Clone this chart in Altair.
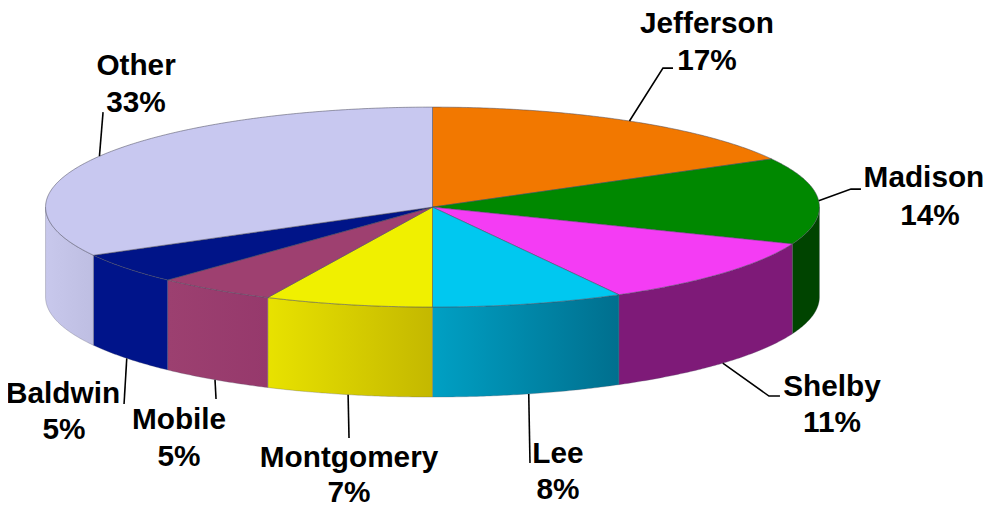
import math
import altair as alt
import pandas as pd

names = ["Jefferson", "Madison", "Shelby", "Lee", "Montgomery", "Mobile", "Baldwin", "Other"]
shares = [17, 14, 11, 8, 7, 5, 5, 33]
top_colors = ["#F27800", "#008800", "#F43CF4", "#00C8F0", "#F0F000", "#9E4070", "#001488", "#C8C8F0"]
side_left = ["#F27800", "#004400", "#7E1A78", "#00A0C4", "#E8E200", "#9C4070", "#00148A", "#C8C8EC"]
side_right = ["#F27800", "#004400", "#7E1A78", "#006F8E", "#C4B800", "#96396C", "#00148A", "#BEBEE2"]

# label position (x of each line, first-line y, second-line y) and the elbow of each leader
label_x1 = [707, 924, 832, 558, 349, 179, 63, 136]
label_x2 = [707, 930, 832, 558, 349, 179, 64, 136]
label_y1 = [23, 177, 386, 453, 457, 419, 393, 65]
label_y2 = [60, 215, 422, 489, 492, 456, 429, 102]
elbow_a = [(663, 67), (851, 188), (769, 395), (530, 462), (349, 437), (216, 398), (124, 403), (103, 111)]
elbow_b = [(673, 67), (861, 188), (780, 395), None, None, None, None, None]

W, H = 985, 504
K = 993 / (W + 16)  # the page overflows the window slightly and is fitted to its width
Y_NUDGE = 1.0
CX, CY, RX, RY, DEPTH = 432.5, 206, 387, 100, 90
x_s = alt.Scale(domain=[8 * K, (W + 8) * K], range=[0, W], nice=False, zero=False)
y_s = alt.Scale(domain=[8 * K + Y_NUDGE, (H + 8) * K + Y_NUDGE], range=[0, H], nice=False, zero=False)
X = lambda f="x": alt.X(f"{f}:Q", scale=x_s, axis=None)
Y = lambda f="y": alt.Y(f"{f}:Q", scale=y_s, axis=None)


def rim(t_deg, drop=0.0):
    t = math.radians(t_deg)
    return CX + RX * math.sin(t), CY - RY * math.cos(t) + drop


starts = []
acc = 0.0
for s in shares:
    starts.append(acc * 3.6)
    acc += s
ends = [a + s * 3.6 for a, s in zip(starts, shares)]

layers = []
# side walls: only the front half of the rim shows
for i in range(len(names)):
    a, b = max(starts[i], 90), min(ends[i], 270)
    if b <= a:
        continue
    n = max(2, int((b - a) * 2))
    rows = []
    for k in range(n + 1):
        t = a + (b - a) * k / n
        x, y = rim(t)
        rows.append({"x": x, "y": y, "y2": y + DEPTH})
    grad = alt.Gradient(
        gradient="linear", x1=0, y1=0, x2=1, y2=0,
        stops=[alt.GradientStop(offset=0, color=side_left[i]),
               alt.GradientStop(offset=1, color=side_right[i])],
    )
    layers.append(
        alt.Chart(pd.DataFrame(rows).sort_values("x")).mark_area(
            color=grad, stroke="#5a5a6a", strokeWidth=0.5, strokeOpacity=0.6, interpolate="linear"
        ).encode(x=X(), y=Y(), y2="y2:Q")
    )

# top wedges
for i in range(len(names)):
    a, b = starts[i], ends[i]
    n = max(2, int((b - a) * 2))
    pts = [(CX, CY)] + [rim(a + (b - a) * k / n) for k in range(n + 1)] + [(CX, CY)]
    df = pd.DataFrame({"x": [p[0] for p in pts], "y": [p[1] for p in pts], "o": range(len(pts))})
    layers.append(
        alt.Chart(df).mark_line(
            fill=top_colors[i], stroke="#4a4a5a", strokeWidth=0.7, strokeOpacity=0.75
        ).encode(x=X(), y=Y(), order="o:Q")
    )

# leaders start at each slice's mid-angle on the visible rim
lead_rows = []
for i, name in enumerate(names):
    mid = (starts[i] + ends[i]) / 2
    drop = DEPTH if 100 < mid < 260 else 0
    ax, ay = rim(mid, drop)
    pts = [(ax, ay), elbow_a[i]] + ([elbow_b[i]] if elbow_b[i] else [])
    for k, p in enumerate(pts):
        lead_rows.append({"name": name, "x": p[0], "y": p[1], "o": k})
layers.append(
    alt.Chart(pd.DataFrame(lead_rows)).mark_line(color="#000000", strokeWidth=1.6).encode(
        x=X(), y=Y(), detail="name:N", order="o:Q"
    )
)

# labels
text_rows = []
for i, name in enumerate(names):
    text_rows.append({"x": label_x1[i], "y": label_y1[i], "t": name})
    text_rows.append({"x": label_x2[i], "y": label_y2[i], "t": f"{shares[i]}%"})
layers.append(
    alt.Chart(pd.DataFrame(text_rows)).mark_text(
        font="Liberation Sans", fontWeight="bold", fontSize=30, color="#000000",
        align="center", baseline="middle",
    ).encode(x=X(), y=Y(), text="t:N")
)

chart = alt.layer(*layers).properties(
    width=W, height=H, padding=0, autosize=alt.AutoSizeParams(type="none"), background="#ffffff"
).configure_view(stroke=None)

chart.save("out.html", embed_options={"renderer": "svg", "actions": False})
